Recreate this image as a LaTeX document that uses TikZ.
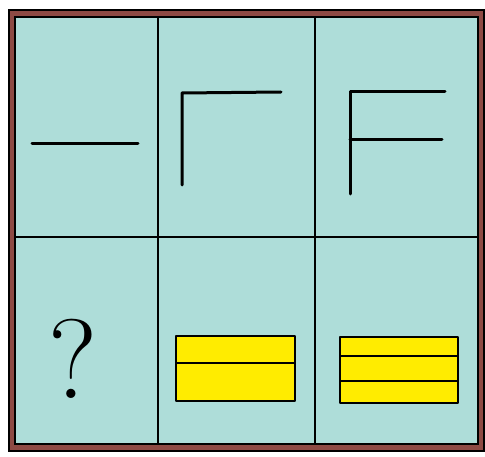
\documentclass[tikz,border=0pt]{standalone}
\usepackage{fontspec}
\definecolor{cellbg}{HTML}{AEDDD9}
\definecolor{framebrown}{HTML}{8E4A44}
\definecolor{boxyellow}{HTML}{FFEC00}
\tikzset{
  gridline/.style={line width=2.3pt, black},
  figline/.style={line width=3pt, black, line cap=round, line join=round},
  ybox/.style={fill=boxyellow, draw=black, line width=2.6pt, line join=round}
}
\begin{document}
\begin{tikzpicture}[x=1pt,y=-1pt]
\useasboundingbox (0,0) rectangle (485,457);
% frame
\draw[fill=framebrown, line width=2pt] (9,10) rectangle (484,451);
\draw[fill=cellbg, line width=2.3pt] (15,17) rectangle (478,444);
% grid
\draw[gridline] (158,17) -- (158,444);
\draw[gridline] (315,17) -- (315,444);
\draw[gridline] (15,237) -- (478,237);
% cell 1
\draw[figline] (32,144) -- (138,144);
% cell 2
\draw[figline] (182,185) -- (182,93) -- (281,92);
% cell 3
\draw[figline] (350,194) -- (350,92) -- (445,92);
\draw[figline] (350,140) -- (442,140);
% cell 4
\node[inner sep=0pt, anchor=base] (q) at (73,398) {\fontsize{113}{113}\selectfont ?};
% cell 5
\draw[ybox] (176,336) rectangle (295,401);
\draw[line width=2.6pt] (176,363) -- (295,363);
% cell 6
\draw[ybox] (340,337) rectangle (458,403);
\draw[line width=2.6pt] (340,356) -- (458,356);
\draw[line width=2.6pt] (340,381) -- (458,381);
\end{tikzpicture}
\end{document}
